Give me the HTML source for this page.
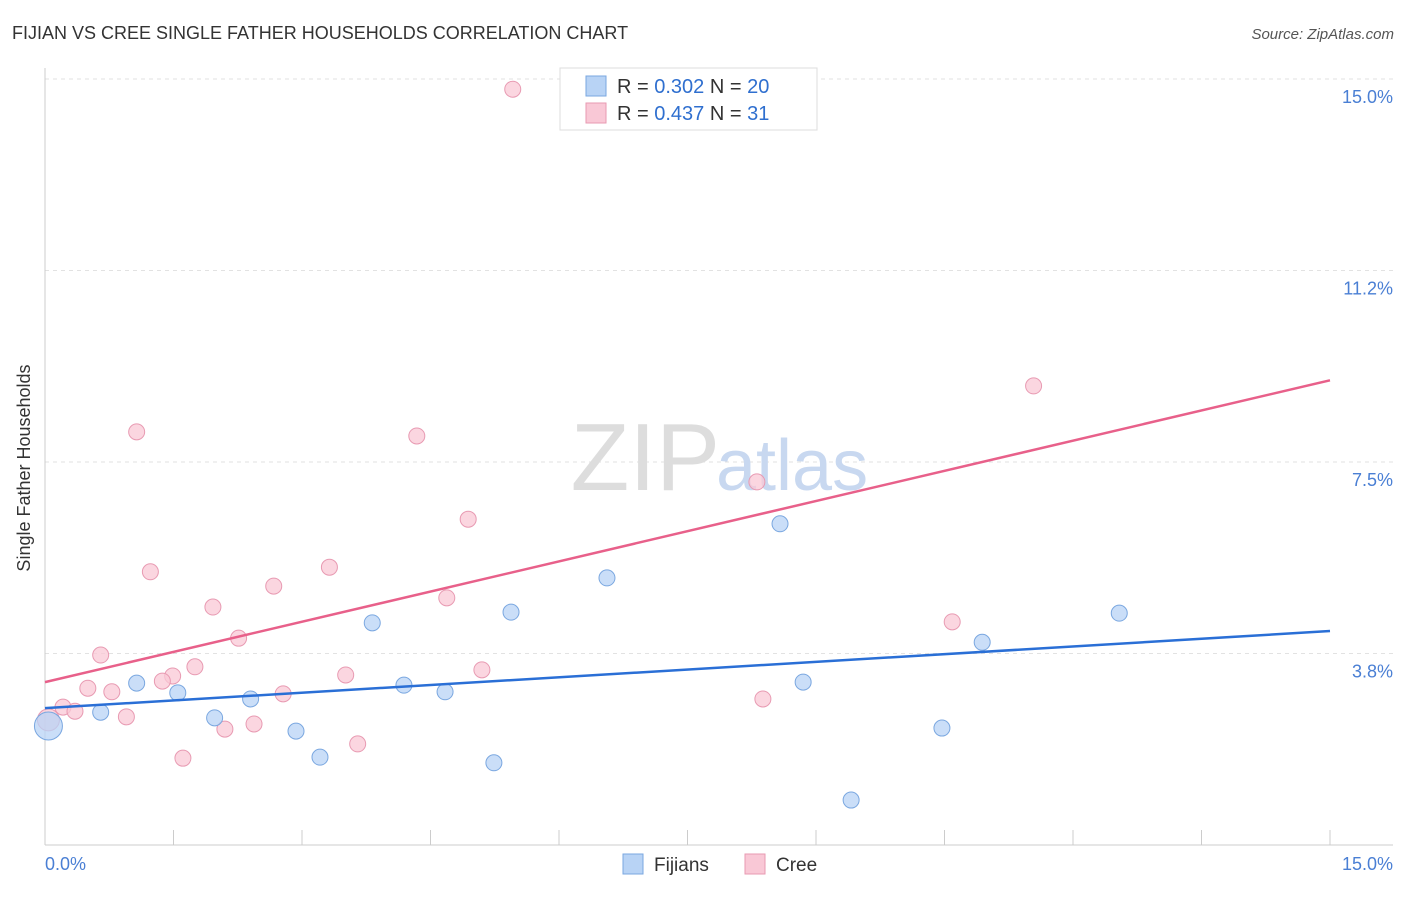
<!DOCTYPE html>
<html><head><meta charset="utf-8"><style>
body{margin:0;background:#fff;font-family:"Liberation Sans",sans-serif}
svg text{font-family:"Liberation Sans",sans-serif}
</style></head><body>
<svg id="chart" width="1406" height="892" xmlns="http://www.w3.org/2000/svg">
<text x="12" y="39" font-size="18" fill="#333">FIJIAN VS CREE SINGLE FATHER HOUSEHOLDS CORRELATION CHART</text>
<text x="1394" y="39" font-size="15" fill="#555" text-anchor="end" font-style="italic">Source: ZipAtlas.com</text>
<g id="grid"></g>
<g id="axes"></g>
<text x="720" y="490" font-size="96" fill="#ddd" text-anchor="end" font-family="Liberation Serif">ZIP</text>
<text x="716" y="490" font-size="72" fill="#c8d8f0">atlas</text>
<g id="marks"></g>
<g>
<rect x="560" y="68" width="257" height="62" fill="#fff" stroke="#ddd"/>
<rect x="586" y="76" width="20" height="20" fill="#b8d3f5" stroke="#7aa7e0"/>
<rect x="586" y="103" width="20" height="20" fill="#f9c8d6" stroke="#e89ab2"/>
<text x="617" y="93" font-size="20" fill="#333">R = <tspan fill="#2f6fcf">0.302</tspan>   N = <tspan fill="#2f6fcf">20</tspan></text>
<text x="617" y="120" font-size="20" fill="#333">R = <tspan fill="#2f6fcf">0.437</tspan>   N =  <tspan fill="#2f6fcf">31</tspan></text>
</g>
<g>
<rect x="623" y="854" width="20" height="20" fill="#b8d3f5" stroke="#7aa7e0"/>
<text x="654" y="871" font-size="19" fill="#333">Fijians</text>
<rect x="745" y="854" width="20" height="20" fill="#f9c8d6" stroke="#e89ab2"/>
<text x="776" y="871" font-size="19" fill="#333">Cree</text>
</g>
<text x="18" y="456" font-size="18" fill="#333" text-anchor="middle" transform="rotate(-90 30 456)">Single Father Households</text>
</svg>
<script>
const yTicks=[3.75,7.5,11.25,15];
const yTickLabels=["3.8%","7.5%","11.2%","15.0%"];
const xTickLabels=["0.0%","15.0%"];
const fijX=[1.07,1.55,0.65,1.98,2.40,2.93,3.21,3.82,4.19,4.67,5.24,5.44,6.56,8.58,8.85,9.41,10.47,10.94,12.54,0.04];
const fijY=[3.17,2.98,2.60,2.49,2.86,2.23,1.72,4.35,3.13,3.00,1.61,4.56,5.23,6.29,3.19,0.88,2.29,3.97,4.54,2.33];
const creeX=[5.46,11.54,1.07,4.34,8.31,4.94,1.23,3.32,2.67,4.69,1.96,10.59,2.26,0.65,1.75,3.51,1.49,5.10,1.37,0.50,0.78,2.78,8.38,0.21,0.35,0.95,2.10,2.44,3.65,1.61,0.04];
const creeY=[14.80,8.99,8.09,8.01,7.11,6.38,5.35,5.44,5.07,4.84,4.66,4.37,4.05,3.72,3.49,3.33,3.31,3.43,3.21,3.07,3.00,2.96,2.86,2.70,2.62,2.51,2.27,2.37,1.98,1.70,2.45];
const fijTrend=[2.68,4.19];
const creeTrend=[3.19,9.10];
const NS="http://www.w3.org/2000/svg";
const xs=v=>45+v*1285/15, ys=v=>845-v*766/15;
function mk(p,t,a){const e=document.createElementNS(NS,t);for(const k in a)e.setAttribute(k,a[k]);p.appendChild(e);return e;}
const grid=document.getElementById('grid'),axes=document.getElementById('axes'),marks=document.getElementById('marks');
yTicks.forEach((t,i)=>{
 const l=mk(grid,'line',{x1:45,x2:1393,y1:ys(t),y2:ys(t),stroke:'#e2e2e2','stroke-dasharray':'4,4'});
 
 
 const tx=mk(axes,'text',{x:1393,y:ys(t)+24,'font-size':18,fill:'#4a7fd4','text-anchor':'end'});
 tx.textContent=yTickLabels[i];
 
 
});
mk(axes,'line',{x1:45,x2:45,y1:68,y2:845,stroke:'#ccc'});
mk(axes,'line',{x1:45,x2:1393,y1:845,y2:845,stroke:'#ccc'});
for(let i=0;i<=10;i++){const x=xs(i*1.5);const t=mk(axes,'line',{x1:x,x2:x,y1:830,y2:845,stroke:'#ccc'});
 
 }
const xl0=mk(axes,'text',{x:45,y:870,'font-size':18,fill:'#4a7fd4'});xl0.textContent=xTickLabels[0];


const xl1=mk(axes,'text',{x:1393,y:870,'font-size':18,fill:'#4a7fd4','text-anchor':'end'});xl1.textContent=xTickLabels[1];


creeX.forEach((x,i)=>{const big=i===creeX.length-1;const c=mk(marks,'circle',{cx:xs(x),cy:ys(creeY[i]),r:big?11:8,fill:'#f9c8d6','fill-opacity':0.75,stroke:'#e89ab2'});
 
 });
fijX.forEach((x,i)=>{const big=i===fijX.length-1;const c=mk(marks,'circle',{cx:xs(x),cy:ys(fijY[i]),r:big?14:8,fill:'#b8d3f5','fill-opacity':0.75,stroke:'#7aa7e0'});
 
 });
const t1=mk(marks,'line',{x1:xs(0),x2:xs(15),y1:ys(creeTrend[0]),y2:ys(creeTrend[1]),stroke:'#e8608a','stroke-width':2.5});


const t2=mk(marks,'line',{x1:xs(0),x2:xs(15),y1:ys(fijTrend[0]),y2:ys(fijTrend[1]),stroke:'#2a6fd6','stroke-width':2.5});


</script>
</body></html>
